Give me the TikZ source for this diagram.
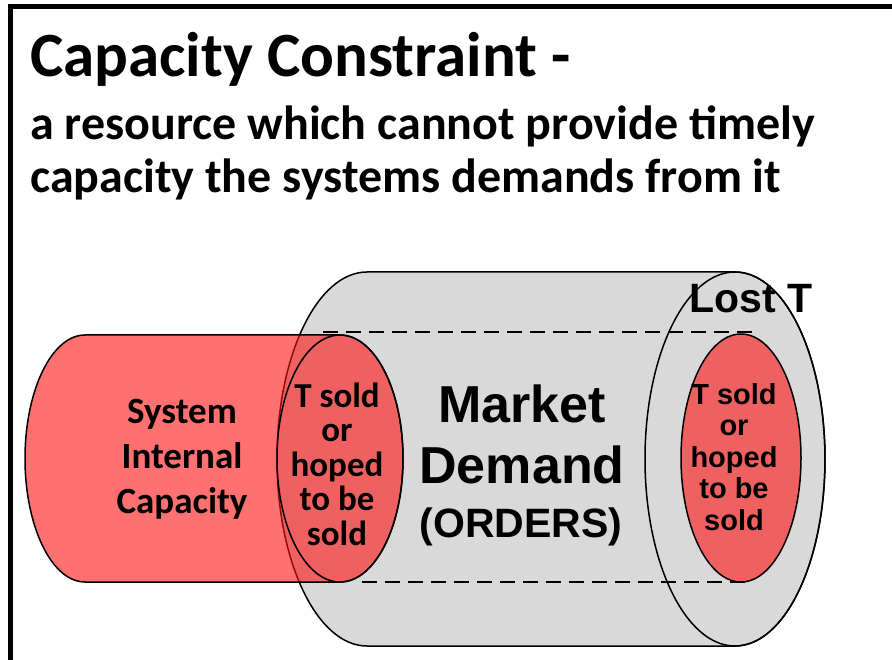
\documentclass[tikz,border=0pt]{standalone}
\usepackage{fontspec}
\setmainfont{Carlito}
\newfontfamily\arialfont{Liberation Sans}
\definecolor{cylgrey}{RGB}{217,217,217}
\definecolor{capred}{RGB}{255,17,17}
\begin{document}
\begin{tikzpicture}[x=1pt,y=-1pt,
  outline/.style={draw=black,line width=1.5pt},
  redfill/.style={fill=capred,fill opacity=0.6},
  dashline/.style={draw=black,line width=1.5pt,dash pattern=on 15pt off 8pt},
  txt/.style={inner sep=0pt,anchor=base,align=center,text=black}]
\useasboundingbox (0,0) rectangle (892,660);
\clip (0,0) rectangle (892,660);
% frame
\draw[line width=5pt] (10,700) -- (10,6.8) -- (900,6.8);
% grey cylinder (market demand)
\path[fill=cylgrey,outline] (735,272) -- (367,272)
  arc[start angle=90,end angle=270,x radius=90pt,y radius=187pt]
  -- (735,646)
  arc[start angle=270,end angle=450,x radius=90pt,y radius=187pt] -- cycle;
\draw[outline] (735,459) ellipse[x radius=90pt,y radius=187pt];
% inner dashed cylinder
\draw[dashline] (323,332) -- (753,332);
\draw[dashline] (362,582) -- (750,582);
% inner right red ellipse
\path[redfill,outline] (741,458) ellipse[x radius=60pt,y radius=124pt];
% red cylinder (system internal capacity)
\path[redfill,outline] (340,335) -- (85,335)
  arc[start angle=90,end angle=270,x radius=60pt,y radius=123.5pt]
  -- (340,582)
  arc[start angle=-90,end angle=90,x radius=63pt,y radius=123.5pt] -- cycle;
\draw[outline] (340,458.5) ellipse[x radius=63pt,y radius=123.5pt];
% texts
\node[txt,anchor=base west,align=left,font={\bfseries\fontsize{63}{66}\selectfont}] (title) at (30,77) {Capacity Constraint -};
\node[txt,anchor=base west,align=left,font={\bfseries\fontsize{48}{53}\selectfont}] (sub) at (30,193)
  {a resource which cannot provide timely\\capacity the systems demands from it};
\node[txt,font={\bfseries\fontsize{37}{45}\selectfont}] (sys) at (182,513) {System\\Internal\\Capacity};
\node[txt,font={\bfseries\fontsize{35}{34.5}\selectfont}] (tsoldA) at (337,545) {T sold\\or\\hoped\\to be\\sold};
\node[txt,font={\arialfont\bfseries\fontsize{52}{61}\selectfont}] (market) at (522,483) {Market\\Demand};
\node[txt,font={\arialfont\bfseries\fontsize{41}{45}\selectfont}] (orders) at (521,537) {(ORDERS)};
\node[txt,font={\arialfont\bfseries\fontsize{41}{45}\selectfont}] (lost) at (751,313) {Lost T};
\node[txt,font={\arialfont\bfseries\fontsize{29}{31.5}\selectfont}] (tsoldB) at (734,530) {T sold\\or\\hoped\\to be\\sold};
\end{tikzpicture}
\end{document}
